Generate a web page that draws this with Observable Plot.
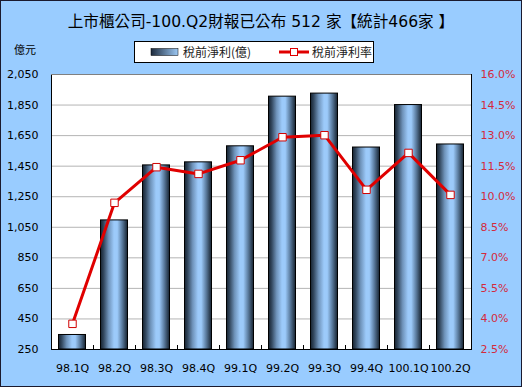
<!DOCTYPE html>
<html>
<head>
<meta charset="utf-8">
<script src="https://cdn.jsdelivr.net/npm/d3@7"></script>
<script src="https://cdn.jsdelivr.net/npm/@observablehq/plot@0.6"></script>
<style>
  html, body { margin: 0; padding: 0; background: #ffffff; }
  #wrap { position: relative; box-sizing: border-box; width: 522px; height: 387px; border: 1px solid #1a1a2e; background: #99CCFF; font-family: "DejaVu Sans", "Noto Sans CJK TC", sans-serif; overflow: hidden; }
  #title { height: 40px; line-height: 42px; text-align: center; font-size: 15.6px; color: #000; font-family: "DejaVu Sans", "Noto Sans CJK TC", sans-serif; white-space: nowrap; }
  #legendrow { position: relative; height: 25px; }
  #unit { position: absolute; left: 13px; top: 0px; font-size: 11px; font-family: "Noto Sans CJK TC", sans-serif; }
  #legend { position: absolute; left: 133px; top: 0px; width: 240px; height: 22px; box-sizing: border-box; border: 1px solid #000; background: #fff; font-size: 12px; font-family: "Noto Sans CJK TC", sans-serif; }
  .lg { position: absolute; top: 2px; line-height: 16px; white-space: nowrap; color: #222; }
  #chart svg { display: block; }
</style>
</head>
<body>
<div id="wrap">
  <div id="title">上市櫃公司-100.Q2財報已公布 512 家【統計466家 】</div>
  <div id="legendrow">
    <div id="unit">億元</div>
    <div id="legend">
      <svg width="60" height="20" style="position:absolute;left:15px;top:0px">
        <defs>
          <linearGradient id="lgGrad" x1="0" x2="1" y1="0" y2="0">
            <stop offset="0%" stop-color="#1c2a3c"/>
            <stop offset="100%" stop-color="#9cc8f4"/>
          </linearGradient>
        </defs>
        <rect x="1" y="6.5" width="27" height="7" fill="url(#lgGrad)" stroke="#000" stroke-width="0.5"/>
      </svg>
      <span class="lg" style="left:48px">稅前淨利(億)</span>
      <svg width="32" height="20" style="position:absolute;left:144px;top:0px">
        <line x1="0" x2="30" y1="10" y2="10" stroke="#e00000" stroke-width="3"/>
        <rect x="11.5" y="6.5" width="7" height="7" fill="#fff" stroke="#e00000" stroke-width="1"/>
      </svg>
      <span class="lg" style="left:177px">稅前淨利率</span>
    </div>
  </div>
  <div id="chart"></div>
</div>
<script>
const categories = ["98.1Q","98.2Q","98.3Q","98.4Q","99.1Q","99.2Q","99.3Q","99.4Q","100.1Q","100.2Q"];
const profit = [345, 1095, 1455, 1475, 1580, 1905, 1925, 1572, 1850, 1592];
const rate = [3.76, 9.70, 11.45, 11.12, 11.79, 12.92, 13.02, 10.34, 12.15, 10.09];
const leftTicks = [250, 450, 650, 850, 1050, 1250, 1450, 1650, 1850, 2050];
const rightTicks = [2.5, 4.0, 5.5, 7.0, 8.5, 10.0, 11.5, 13.0, 14.5, 16.0];

const yMin = 250, yMax = 2050, rMin = 2.5, rMax = 16.0;
const rToY = r => yMin + (r - rMin) / (rMax - rMin) * (yMax - yMin);

const barData = categories.map((c, i) => ({cat: c, value: profit[i]}));
const rateData = categories.map((c, i) => ({cat: c, rate: rate[i], y: rToY(rate[i])}));

const defsMark = () => {
  const defs = d3.create("svg:defs");
  const g = defs.append("linearGradient").attr("id", "barGrad").attr("x1", 0).attr("x2", 1).attr("y1", 0).attr("y2", 0);
  [[0, "#16222f"], [0.12, "#33485f"], [0.3, "#6f93ba"], [0.5, "#9ccafa"], [0.62, "#9ccafa"], [0.8, "#5c7da0"], [1, "#16222f"]]
    .forEach(([o, c]) => g.append("stop").attr("offset", o).attr("stop-color", c));
  return defs.node();
};

const boundaryTicks = (index, scales, values, dims) => {
  const g = d3.create("svg:g");
  const yb = dims.height - dims.marginBottom;
  categories.slice(1).forEach(c => {
    const x = Math.round(scales.x(c)) + 0.5;
    g.append("line").attr("x1", x).attr("x2", x).attr("y1", yb).attr("y2", yb - 4).attr("stroke", "#000");
  });
  return g.node();
};

const chart = Plot.plot({
  width: 520,
  height: 320,
  marginTop: 8,
  marginBottom: 37,
  marginLeft: 50,
  marginRight: 50,
  style: {fontSize: "11px", fontFamily: "DejaVu Sans, sans-serif", background: "transparent", color: "#000", overflow: "visible"},
  x: {type: "band", domain: categories, padding: 0, label: null},
  y: {domain: [yMin, yMax], label: null},
  marks: [
    defsMark,
    Plot.frame({fill: "#fff", stroke: null}),
    Plot.gridY(leftTicks, {stroke: "#b4b4b4", strokeOpacity: 1}),
    Plot.barY(barData, {x: "cat", y1: yMin, y2: "value", fill: "url(#barGrad)", stroke: "#000", strokeWidth: 1, insetLeft: 7.5, insetRight: 7.5}),
    Plot.frame({stroke: "#000", strokeWidth: 1}),
    Plot.ruleY([yMax], {stroke: "#808080"}),
    boundaryTicks,
    Plot.line(rateData, {x: "cat", y: "y", stroke: "#e00000", strokeWidth: 3}),
    Plot.dot(rateData, {x: "cat", y: "y", symbol: "square", r: 4.2, fill: "#fff", stroke: "#d00000", strokeWidth: 1}),
    Plot.axisY(leftTicks, {anchor: "left", tickSize: 0, tickPadding: 13, tickFormat: d3.format(",")}),
    Plot.axisY(rightTicks.map(rToY), {anchor: "right", tickSize: 0, tickPadding: 9, fill: "#d42a3c", tickFormat: v => (rMin + (v - yMin) / (yMax - yMin) * (rMax - rMin)).toFixed(1) + "%"}),
    Plot.axisX({tickSize: 0, tickPadding: 15})
  ]
});
document.getElementById("chart").appendChild(chart);
</script>
</body>
</html>
